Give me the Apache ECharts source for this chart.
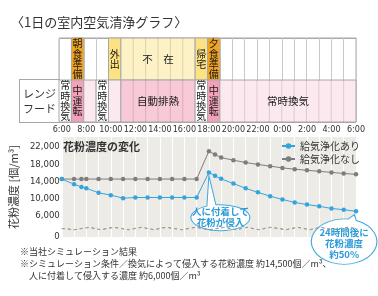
<!DOCTYPE html>
<html>
<head>
<meta charset="utf-8">
<script src="https://cdn.jsdelivr.net/npm/echarts@6/dist/echarts.min.js"></script>
<style>
  html, body { margin: 0; padding: 0; background: #fff; }
  #chart { width: 378px; height: 296px; }
</style>
</head>
<body>
<div id="chart"></div>
<script>
// hours after 6:00
const hours = [0, 1, 1.6, 2, 3, 4, 5, 6, 7, 8, 9, 10, 11, 12, 12.5, 13, 14, 15, 16, 17, 18, 19, 20, 21, 22, 23, 24]
const withPurifier = [14500, 13300, 12650, 12350, 11300, 10750, 10050, 10200, 10200, 10200, 10200, 10200, 10200,
  16050, 15250, 14550, 13450, 12350, 11400, 10500, 9750, 9050, 8550, 8150, 7650, 7350, 7000]
const withoutPurifier = [14500, 14500, 14500, 14500, 14500, 14500, 14500, 14500, 14500, 14500, 14500, 14500, 14500,
  21000, 20200, 19500, 18900, 18350, 17900, 17500, 17100, 16800, 16550, 16300, 16050, 15800, 15600]

const timeLabels = ['6:00', '8:00', '10:00', '12:00', '14:00', '16:00', '18:00', '20:00', '22:00', '0:00', '2:00', '4:00', '6:00']
const yTicks = [0, 6000, 10000, 14000, 18000, 22000]
const seriesNames = ['給気浄化あり', '給気浄化なし']
const rowNames = ['', 'レンジ\nフード']

// [start hour, end hour, label, kind]
const activityBlocks = [
  [1, 2, '朝食準備', 'meal'],
  [4, 5, '外出', 'move'],
  [5, 11, '不　在', 'away'],
  [11, 12, '帰宅', 'move'],
  [12, 13, '夕食準備', 'meal'],
]
const hoodBlocks = [
  [0, 1, '常時換気', 'normal'],
  [1, 2, '中運転', 'medium'],
  [2, 3, '', 'light'],
  [3, 4, '常時換気', 'normal'],
  [4, 5, '', 'light'],
  [5, 11, '自動排熱', 'auto'],
  [11, 12, '常時換気', 'normal'],
  [12, 13, '中運転', 'medium'],
  [13, 24, '常時換気', 'light'],
]

const jpFont = '"Noto Sans CJK JP", sans-serif'
const numFont = '"Liberation Sans Narrow", "DejaVu Sans Condensed", "Liberation Sans", sans-serif'
const cellColors = {
  meal: '#f2a31e',
  move: '#fde283',
  away: '#fdf1c6',
  normal: '#ffffff',
  medium: '#f3a1b9',
  light: '#fce9ef',
  auto: '#f8c9d7',
}

const tableCells = [
  ...activityBlocks.map(([start, end, label, kind]) => ({ row: 0, start, end, label, kind })),
  ...hoodBlocks.map(([start, end, label, kind]) => ({ row: 1, start, end, label, kind })),
]

function renderCell(params, api) {
  const cell = tableCells[params.dataIndex]
  const a = api.coord([cell.start, cell.row])
  const b = api.coord([cell.end, cell.row])
  const h = api.size([0, 1])[1]
  const top = a[1] - h / 2
  const w = b[0] - a[0]
  const children = [{
    type: 'rect',
    shape: { x: a[0], y: top, width: w, height: h },
    style: { fill: cellColors[cell.kind], stroke: '#a8a8a8', lineWidth: 1 },
  }]
  for (let t = cell.start + 1; t < cell.end; t++) {
    const x = api.coord([t, cell.row])[0]
    children.push({
      type: 'line',
      shape: { x1: x, y1: top, x2: x, y2: top + h },
      style: { stroke: 'rgba(0,0,0,0.13)', lineWidth: 1 },
    })
  }
  if (cell.label) {
    const vertical = cell.end - cell.start === 1
    children.push({
      type: 'text',
      style: {
        text: vertical ? cell.label.split('').join('\n') : cell.label,
        x: a[0] + w / 2,
        y: top + h / 2,
        align: 'center',
        verticalAlign: 'middle',
        fontSize: vertical ? 10 : 10.5,
        lineHeight: 10.3,
        fontFamily: jpFont,
        fill: '#1a1a1a',
      },
    })
  }
  return { type: 'group', children }
}

const chart = echarts.init(document.getElementById('chart'), null, { renderer: 'canvas' })

chart.setOption({
  animation: false,
  backgroundColor: '#ffffff',
  title: [
    {
      text: '〈1日の室内空気清浄グラフ〉', left: 11, top: 16, padding: 0,
      textStyle: { fontSize: 13, fontWeight: 'normal', color: '#333', fontFamily: jpFont },
    },
    {
      text: '花粉濃度の変化', left: 63, top: 141, padding: 0,
      textStyle: { fontSize: 11, fontWeight: 'bold', color: '#333', fontFamily: jpFont },
    },
    {
      text: '※当社シミュレーション結果\n※シミュレーション条件／換気によって侵入する花粉濃度 約14,500個／m³、\n　人に付着して侵入する濃度 約6,000個／m³',
      left: 20, top: 246, padding: 0,
      textStyle: { fontSize: 9, lineHeight: 11.8, fontWeight: 'normal', color: '#333', fontFamily: jpFont },
    },
  ],
  legend: {
    orient: 'vertical', left: 281, top: 140, padding: 0,
    itemWidth: 13, itemHeight: 7, itemGap: 1,
    data: seriesNames,
    textStyle: { fontSize: 10, lineHeight: 12, color: '#333', fontFamily: jpFont },
  },
  grid: [
    { left: 59, right: 22, top: 137, bottom: 59, show: true, backgroundColor: '#ecebe6', borderWidth: 0 },
    { left: 59, right: 22, top: 38, height: 84, show: true, backgroundColor: '#fff', borderColor: '#a8a8a8', borderWidth: 1 },
  ],
  xAxis: [
    {
      type: 'value', gridIndex: 0, position: 'top', min: 0, max: 24, interval: 1,
      axisLine: { show: false }, axisTick: { show: false },
      splitLine: { lineStyle: { color: '#ffffff', width: 1 } },
      axisLabel: {
        margin: 3, fontSize: 9, color: '#333', fontFamily: numFont,
        showMinLabel: true, showMaxLabel: true,
        formatter: (v) => (v % 2 === 0 ? timeLabels[v / 2] : ''),
      },
    },
    {
      type: 'value', gridIndex: 1, min: 0, max: 24, interval: 1,
      axisLine: { show: false }, axisTick: { show: false }, axisLabel: { show: false },
      splitLine: { lineStyle: { color: '#c9c9c9' } },
    },
  ],
  yAxis: [
    {
      type: 'value', gridIndex: 0, min: 0, max: 24300,
      breaks: [{ start: 2000, end: 3000, gap: 2 }],
      breakArea: {
        show: true,
        itemStyle: { color: '#9c9c9c', borderColor: '#9c9c9c', borderWidth: 1, opacity: 1 },
        zigzagAmplitude: 1.2, zigzagMinSpan: 10, zigzagMaxSpan: 16,
      },
      name: '花粉濃度 [個/m³]', nameLocation: 'middle', nameRotate: 90, nameGap: 35,
      nameTextStyle: { fontSize: 11, color: '#333', fontFamily: jpFont },
      axisLine: { show: false }, axisTick: { show: false }, splitLine: { show: false },
      axisLabel: {
        margin: 2, fontSize: 9.5, color: '#333', fontFamily: numFont,
        customValues: yTicks,
        formatter: (v) => v.toLocaleString('en-US'),
      },
    },
    {
      type: 'category', gridIndex: 1, data: rowNames, inverse: true,
      axisLine: { show: false }, axisTick: { show: false },
      splitLine: { show: true, interval: 0, lineStyle: { color: '#a8a8a8' } },
      axisLabel: {
        interval: (idx) => idx === 1,
        align: 'center', margin: 19.5,
        width: 39, padding: [6, 0, 6, 0], lineHeight: 15,
        backgroundColor: '#fff', borderColor: '#a8a8a8', borderWidth: 1,
        fontSize: 11, color: '#333', fontFamily: jpFont,
      },
    },
  ],
  series: [
    {
      name: seriesNames[1], type: 'line', xAxisIndex: 0, yAxisIndex: 0,
      data: hours.map((h, i) => [h, withoutPurifier[i]]),
      symbol: 'circle', symbolSize: 4.5, color: '#7d7d7d',
      lineStyle: { width: 1, color: '#7d7d7d' },
      emphasis: { disabled: true },
    },
    {
      name: seriesNames[0], type: 'line', xAxisIndex: 0, yAxisIndex: 0, z: 3,
      data: hours.map((h, i) => [h, withPurifier[i]]),
      symbol: 'circle', symbolSize: 4.5, color: '#35a4de',
      lineStyle: { width: 1, color: '#35a4de' },
      emphasis: { disabled: true },
      markPoint: {
        silent: true,
        itemStyle: { color: '#ffffff', borderColor: '#41a9df', borderWidth: 1 },
        label: {
          show: true, position: 'inside', color: '#2b9bd8', fontSize: 9.5, fontWeight: 'bold',
          lineHeight: 11, fontFamily: jpFont,
        },
        data: [
          {
            coord: [hours[13], withPurifier[13]],
            symbol: 'path://M18,0 L25,29.15 A29.5,13 0 1 1 16,30.44 Z',
            symbolSize: [59, 55], symbolOffset: [11.5, 30.8],
            label: { formatter: '人に付着して\n花粉が侵入', offset: [0, 14] },
          },
          {
            coord: [hours[26], withPurifier[26]],
            symbol: 'path://M43,0 L45,5.93 A32.8,22.7 0 1 1 37,4.49 Z',
            symbolSize: [65.6, 49.7], symbolOffset: [-11.9, 28.2],
            label: { formatter: '24時間後に\n花粉濃度\n約50%', offset: [0, 3.5] },
          },
        ],
      },
    },
    {
      name: 'schedule', type: 'custom', xAxisIndex: 1, yAxisIndex: 1,
      renderItem: renderCell, clip: false, silent: true,
      data: tableCells.map((c) => [c.start, c.end, c.row]),
      encode: { x: [0, 1], y: 2 },
    },
  ],
})
</script>
</body>
</html>
